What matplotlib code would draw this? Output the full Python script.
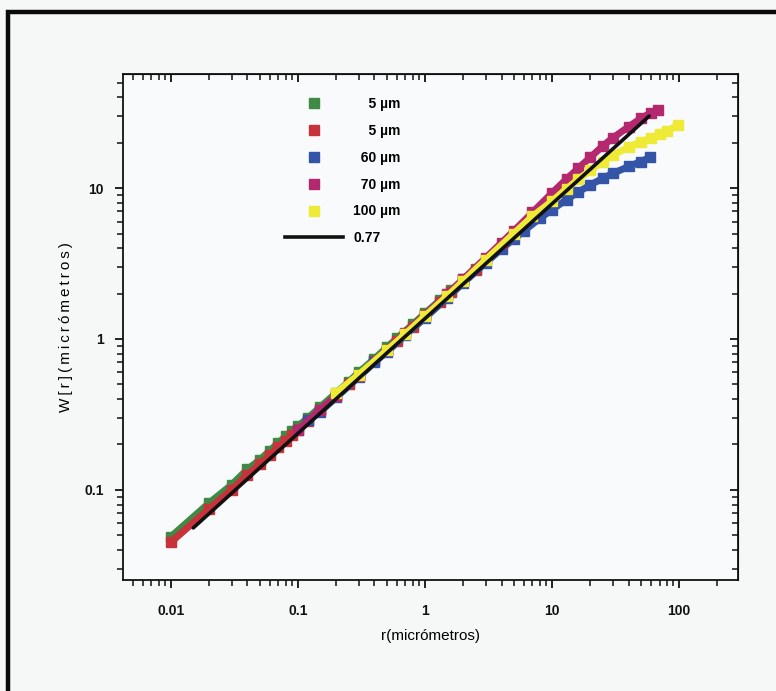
import numpy as np
import matplotlib
matplotlib.use('Agg')
import matplotlib.pyplot as plt
from matplotlib import ticker
from matplotlib.lines import Line2D
from matplotlib.patches import Rectangle

plt.rcParams['font.family'] = ['Liberation Sans', 'DejaVu Sans']
plt.rcParams['font.weight'] = 'bold'
plt.rcParams['font.size'] = 10

# 5 um (green)
r_5a = [0.01, 0.02, 0.03, 0.04, 0.05, 0.06, 0.07, 0.08, 0.09, 0.1, 0.12, 0.15,
        0.2, 0.25, 0.3, 0.4, 0.5, 0.6, 0.8, 1.0, 1.3, 1.6, 2.0, 2.5]
w_5a = [0.049, 0.082, 0.108, 0.137, 0.158, 0.182, 0.205, 0.226, 0.247, 0.265, 0.30, 0.355,
        0.44, 0.52, 0.60, 0.74, 0.88, 1.01, 1.25, 1.48, 1.80, 2.10, 2.48, 2.90]
# 5 um (red)
r_5b = [0.01, 0.02, 0.03, 0.04, 0.05, 0.06, 0.07, 0.08, 0.09, 0.1, 0.12, 0.15,
        0.2, 0.25, 0.3, 0.4, 0.5, 0.6, 0.8, 1.0, 1.3, 1.6, 2.0, 2.5]
w_5b = [0.045, 0.075, 0.100, 0.126, 0.148, 0.170, 0.192, 0.212, 0.232, 0.25, 0.285, 0.34,
        0.42, 0.50, 0.575, 0.71, 0.85, 0.97, 1.21, 1.43, 1.75, 2.05, 2.42, 2.88]
# 60 um (blue)
r_60 = [0.12, 0.15, 0.2, 0.3, 0.4, 0.5, 0.7, 1, 1.5, 2, 3, 4, 5, 6, 8, 10,
        13, 16, 20, 25, 30, 40, 50, 59]
w_60 = [0.29, 0.33, 0.41, 0.56, 0.70, 0.82, 1.06, 1.38, 1.88, 2.35, 3.2, 3.95, 4.6, 5.2, 6.3, 7.2,
        8.4, 9.4, 10.5, 11.6, 12.5, 13.9, 15.0, 16.0]
# 70 um (magenta)
r_70 = [0.1, 0.15, 0.2, 0.3, 0.5, 0.7, 1, 1.5, 2, 3, 4, 5, 7, 10,
        13, 16, 20, 25, 30, 40, 50, 60, 68]
w_70 = [0.25, 0.34, 0.42, 0.57, 0.85, 1.1, 1.45, 1.98, 2.5, 3.45, 4.35, 5.2, 6.9, 9.3,
        11.5, 13.5, 16.0, 19.0, 21.5, 25.5, 29.0, 31.5, 33.0]
# 100 um (yellow)
r_100 = [0.2, 0.3, 0.5, 0.7, 1, 1.5, 2, 3, 5, 7, 10, 13, 16, 20, 25, 30,
         40, 50, 60, 70, 80, 98]
w_100 = [0.44, 0.58, 0.84, 1.08, 1.42, 1.93, 2.42, 3.35, 5.0, 6.5, 8.2, 9.9, 11.4, 13.1, 15.0, 16.5,
         18.7, 20.3, 21.6, 22.8, 24.0, 26.0]
# power-law fit, exponent 0.77
r_fit = [0.015, 58]
w_fit = [0.056, 30]

labels = ['\u2007\u20075 \u00b5m', '\u2007\u20075 \u00b5m', '\u200760 \u00b5m',
          '\u200770 \u00b5m', '100 \u00b5m', '0.77']
colors = ['#3f8a45', '#c8323a', '#3454a8', '#b3286e', '#eeea35']

fig = plt.figure(figsize=(7.76, 6.91), dpi=100)
fig.patch.set_facecolor('#f6f8f8')
ax = fig.add_axes([123 / 776, 1 - 580 / 691, 615 / 776, 506 / 691])
ax.set_facecolor('#f8fafb')

series = [(r_5a, w_5a), (r_5b, w_5b), (r_60, w_60), (r_70, w_70), (r_100, w_100)]
for (r, w), c in zip(series, colors):
    ax.plot(r, w, color=c, lw=5, marker='s', ms=6.5, mec=c, solid_joinstyle='miter')
ax.plot(r_fit, w_fit, color='#111111', lw=2.6, solid_capstyle='round')

ax.set_xscale('log')
ax.set_yscale('log')
ax.set_xlim(0.0042, 290)
ax.set_ylim(0.0253, 57)

fmt = ticker.FuncFormatter(lambda v, _: f'{v:g}')
ax.xaxis.set_major_locator(ticker.FixedLocator([0.01, 0.1, 1, 10, 100]))
ax.yaxis.set_major_locator(ticker.FixedLocator([0.1, 1, 10]))
ax.xaxis.set_major_formatter(fmt)
ax.yaxis.set_major_formatter(fmt)
ax.xaxis.set_minor_locator(ticker.LogLocator(base=10, subs=np.arange(2, 10), numticks=20))
ax.yaxis.set_minor_locator(ticker.LogLocator(base=10, subs=np.arange(2, 10), numticks=20))
ax.xaxis.set_minor_formatter(ticker.NullFormatter())
ax.yaxis.set_minor_formatter(ticker.NullFormatter())
ax.tick_params(which='major', direction='out', length=6, width=1.3, colors='#111111',
               labelsize=10)
ax.tick_params(which='minor', direction='out', length=4, width=1.1, colors='#111111')
ax.tick_params(axis='x', pad=11)
ax.tick_params(axis='y', pad=8)
for s in ax.spines.values():
    s.set_linewidth(1.3)
    s.set_color('#111111')

# inward ticks on the top and right edges
top = ax.secondary_xaxis('top')
right = ax.secondary_yaxis('right')
for sec, axis in ((top, top.xaxis), (right, right.yaxis)):
    axis.set_minor_locator(ticker.LogLocator(base=10, subs=np.arange(2, 10), numticks=20))
    axis.set_major_formatter(ticker.NullFormatter())
    axis.set_minor_formatter(ticker.NullFormatter())
    sec.tick_params(which='major', direction='in', length=6, width=1.3, colors='#111111')
    sec.tick_params(which='minor', direction='in', length=4, width=1.1, colors='#111111')
top.xaxis.set_major_locator(ticker.FixedLocator([0.01, 0.1, 1, 10, 100]))
right.yaxis.set_major_locator(ticker.FixedLocator([0.1, 1, 10]))

ax.set_xlabel('r(micrómetros)', fontsize=11, labelpad=8)
ax.set_ylabel('\u2009'.join('W[r](micrómetros)'), fontsize=11, labelpad=8)

handles = [Line2D([], [], ls='none', marker='s', ms=6.5, color=c) for c in colors]
handles.append(Line2D([], [], color='#111111', lw=2.6))
ax.legend(handles, labels, loc='upper left', bbox_to_anchor=(0.263, 0.955),
          frameon=False, handlelength=4.2, handletextpad=0.72, labelspacing=0.93,
          borderpad=0, borderaxespad=0, fontsize=10)

# outer scan frame
fig.add_artist(Rectangle((8 / 776, -0.05), 1.1, 1 - 12 / 691 + 0.05,
                         transform=fig.transFigure, fill=False, lw=3.2,
                         edgecolor='#0a0a0a'))

fig.savefig('out.png', dpi=100, facecolor=fig.get_facecolor())
